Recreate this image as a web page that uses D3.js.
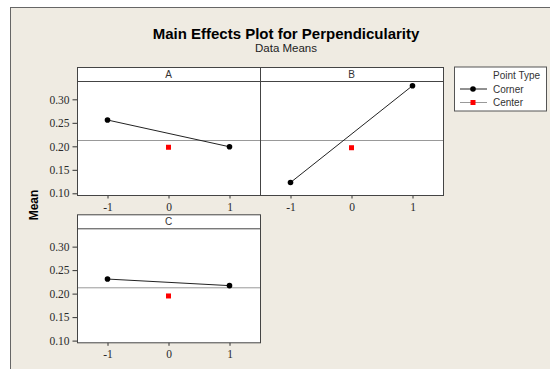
<!DOCTYPE html>
<meta charset="utf-8">
<style>
  body {
    margin: 0;
    background: #fff;
  }
  svg { display: block; }
  .tick-label {
    font-family: "Liberation Serif", serif;
    font-size: 11.5px;
    fill: #2a2a2a;
  }
</style>
<body>
  <script src="https://d3js.org/d3.v7.min.js"></script>
  <div id="chart"></div>
  <script>
    // data
    const factors = ["A", "B", "C"];
    const levels = [-1, 1];
    const cornerMeans = [
      [0.256, 0.199],
      [0.123, 0.329],
      [0.231, 0.217]
    ];
    const centerLevel = 0;
    const centerMeans = [0.198, 0.197, 0.195];
    const grandMean = 0.214;
    const yTicks = [0.10, 0.15, 0.20, 0.25, 0.30];
    const xTicks = [-1, 0, 1];
    const legendLabels = ["Corner", "Center"];

    const width = 550;
    const height = 369;

    // panel layout: 2 columns, A & B on top, C under A
    const panelW = 183;
    const headerH = 14;
    const plotH = 114;
    const colX = [77, 260];
    const rowY = [67, 214.3];
    const panelPos = [[0, 0], [1, 0], [0, 1]];

    const svg = d3.select("#chart")
      .append("svg")
      .attr("width", width)
      .attr("height", height);

    // beige frame
    svg.append("rect")
      .attr("x", 10.5)
      .attr("y", 7.5)
      .attr("width", 600)
      .attr("height", 400)
      .attr("fill", "#EFEBE2")
      .attr("stroke", "#666");

    svg.append("text")
      .attr("x", 286)
      .attr("y", 39)
      .attr("text-anchor", "middle")
      .style("font-family", "Liberation Sans, Arial, sans-serif")
      .style("font-weight", "bold")
      .style("font-size", "15px")
      .attr("fill", "#000")
      .text("Main Effects Plot for Perpendicularity");

    svg.append("text")
      .attr("x", 286)
      .attr("y", 52)
      .attr("text-anchor", "middle")
      .style("font-family", "Liberation Sans, Arial, sans-serif")
      .style("font-size", "11.5px")
      .attr("fill", "#222")
      .text("Data Means");

    svg.append("text")
      .attr("transform", "translate(38,205) rotate(-90)")
      .attr("text-anchor", "middle")
      .style("font-family", "Liberation Sans, Arial, sans-serif")
      .style("font-weight", "bold")
      .style("font-size", "12px")
      .attr("fill", "#000")
      .text("Mean");

    const x = d3.scaleLinear().domain([-1.5, 1.5]).range([0, panelW]);
    const y = d3.scaleLinear().domain([0.0964, 0.339]).range([plotH, 0]);

    factors.forEach((f, i) => {
      const [c, r] = panelPos[i];
      const g = svg.append("g")
        .attr("transform", `translate(${colX[c]},${rowY[r]})`);

      // header strip
      g.append("rect")
        .attr("x", 0.5).attr("y", 0.5)
        .attr("width", panelW).attr("height", headerH)
        .attr("fill", "#fff");
      g.append("text")
        .attr("x", panelW / 2)
        .attr("y", 11)
        .attr("text-anchor", "middle")
        .style("font-family", "Liberation Sans, Arial, sans-serif")
        .style("font-size", "10px")
        .attr("fill", "#333")
        .text(f);

      const plot = g.append("g").attr("transform", `translate(0,${headerH})`);
      plot.append("rect")
        .attr("x", 0.5).attr("y", 0.5)
        .attr("width", panelW).attr("height", plotH)
        .attr("fill", "#fff");

      // grand mean reference
      plot.append("line")
        .attr("x1", 0).attr("x2", panelW)
        .attr("y1", Math.round(y(grandMean)) + 0.5)
        .attr("y2", Math.round(y(grandMean)) + 0.5)
        .attr("stroke", "#999");

      const corners = levels.map((l, k) => ({ lv: l, v: cornerMeans[i][k] }));
      plot.append("path")
        .datum(corners)
        .attr("fill", "none")
        .attr("stroke", "#222")
        .attr("stroke-width", 1)
        .attr("d", d3.line().x(d => x(d.lv)).y(d => y(d.v)));

      plot.selectAll("circle")
        .data(corners)
        .join("circle")
        .attr("cx", d => x(d.lv))
        .attr("cy", d => y(d.v))
        .attr("r", 2.8)
        .attr("fill", "#000");

      plot.append("rect")
        .attr("x", x(centerLevel) - 2.5)
        .attr("y", y(centerMeans[i]) - 2.5)
        .attr("width", 5).attr("height", 5)
        .attr("fill", "#f00");

      // x axis
      const xa = plot.append("g")
        .attr("transform", `translate(0,${plotH + 0.5})`)
        .call(d3.axisBottom(x).tickValues(xTicks).tickSize(3).tickFormat(d => String(d)));
      xa.select(".domain").remove();
      xa.selectAll("line").attr("stroke", "#333");
      xa.selectAll("text").attr("class", "tick-label").attr("y", 7).attr("dy", "0.71em").attr("fill", null);

      if (c === 0) {
        const ya = plot.append("g")
          .attr("transform", "translate(0.5,0)")
          .call(d3.axisLeft(y).tickValues(yTicks).tickSize(5).tickFormat(d3.format(".2f")));
        ya.select(".domain").remove();
        ya.selectAll("line").attr("stroke", "#333");
        ya.selectAll("text").attr("class", "tick-label").attr("x", -8).attr("fill", null);
      }

      // borders
      g.append("rect")
        .attr("x", 0.5).attr("y", 0.5)
        .attr("width", panelW).attr("height", headerH + plotH)
        .attr("fill", "none")
        .attr("stroke", "#444");
      g.append("line")
        .attr("x1", 0).attr("x2", panelW)
        .attr("y1", headerH + 0.5).attr("y2", headerH + 0.5)
        .attr("stroke", "#444");
    });

    // legend
    const lg = svg.append("g").attr("transform", "translate(454,66.5)");
    lg.append("rect")
      .attr("x", 0.5).attr("y", 0.5)
      .attr("width", 92).attr("height", 44)
      .attr("fill", "#fff")
      .attr("stroke", "#555");
    lg.append("text")
      .attr("x", 39)
      .attr("y", 12)
      .style("font-family", "Liberation Sans, Arial, sans-serif")
      .style("font-size", "10px")
      .attr("fill", "#333")
      .text("Point Type");

    const items = lg.selectAll(".item")
      .data(legendLabels)
      .join("g")
      .attr("class", "item")
      .attr("transform", (d, k) => `translate(0,${22.5 + k * 13.5})`);
    items.append("line")
      .attr("x1", 6).attr("x2", 33)
      .attr("stroke", (d, k) => k === 0 ? "#222" : "#999");
    items.each(function (d, k) {
      const it = d3.select(this);
      if (k === 0) {
        it.append("circle").attr("cx", 19).attr("r", 2.8).attr("fill", "#000");
      } else {
        it.append("rect").attr("x", 16.5).attr("y", -2.5).attr("width", 5).attr("height", 5).attr("fill", "#f00");
      }
    });
    items.append("text")
      .attr("x", 39)
      .attr("y", 3.5)
      .style("font-family", "Liberation Sans, Arial, sans-serif")
      .style("font-size", "10px")
      .attr("fill", "#333")
      .text(d => d);
  </script>
</body>
